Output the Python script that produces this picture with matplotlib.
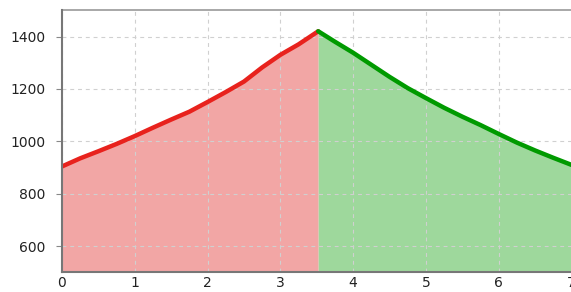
import matplotlib
matplotlib.use('Agg')
import matplotlib.pyplot as plt

# elevation profile, ascent (red) then descent (green)
up_km = [0, 0.25, 0.5, 0.75, 1.0, 1.25, 1.5, 1.75, 2.0, 2.25, 2.5, 2.75, 3.0, 3.25, 3.52]
up_alt = [904, 935, 962, 990, 1020, 1052, 1083, 1113, 1150, 1188, 1228, 1282, 1330, 1370, 1420]

down_km = [3.52, 3.75, 4.0, 4.25, 4.5, 4.75, 5.0, 5.25, 5.5, 5.75, 6.0, 6.25, 6.5, 6.75, 7.0]
down_alt = [1420, 1380, 1338, 1292, 1246, 1203, 1165, 1128, 1094, 1062, 1028, 995, 965, 937, 910]

xticks = [0, 1, 2, 3, 4, 5, 6, 7]
yticks = [600, 800, 1000, 1200, 1400]

fig = plt.figure(figsize=(5.71, 2.92), dpi=100)
ax = fig.add_axes([62/571, 19.7/292, 509.5/571, 262/292])

ax.fill_between(up_km, up_alt, 500, color='#f2a6a5', lw=0, zorder=1)
ax.fill_between(down_km, down_alt, 500, color='#9ed89c', lw=0, zorder=1)
ax.plot(up_km, up_alt, color='#e8221d', lw=3.2, solid_capstyle='round', zorder=3)
ax.plot(down_km, down_alt, color='#009a00', lw=3.2, solid_capstyle='round', zorder=3)

ax.set_xlim(0, 7)
ax.set_ylim(500, 1500)
ax.set_xticks(xticks)
ax.set_yticks(yticks)
ax.grid(True, color='#d0d0d0', linestyle=(0, (3.5, 3.5)), lw=0.8, zorder=2)
ax.set_axisbelow(False)

for s in ['left', 'bottom']:
    ax.spines[s].set_color('#777777')
    ax.spines[s].set_linewidth(1.5)
    ax.spines[s].set_zorder(4)
ax.spines['top'].set_color('#999999')
ax.spines['top'].set_linewidth(1.2)
ax.spines['right'].set_visible(False)

ax.tick_params(axis='y', length=4, width=0.8, color='#888888', labelsize=10, pad=8, labelcolor='#222222')
ax.tick_params(axis='x', length=0, labelsize=10, pad=3, labelcolor='#222222')

fig.savefig('out.png', dpi=100)
